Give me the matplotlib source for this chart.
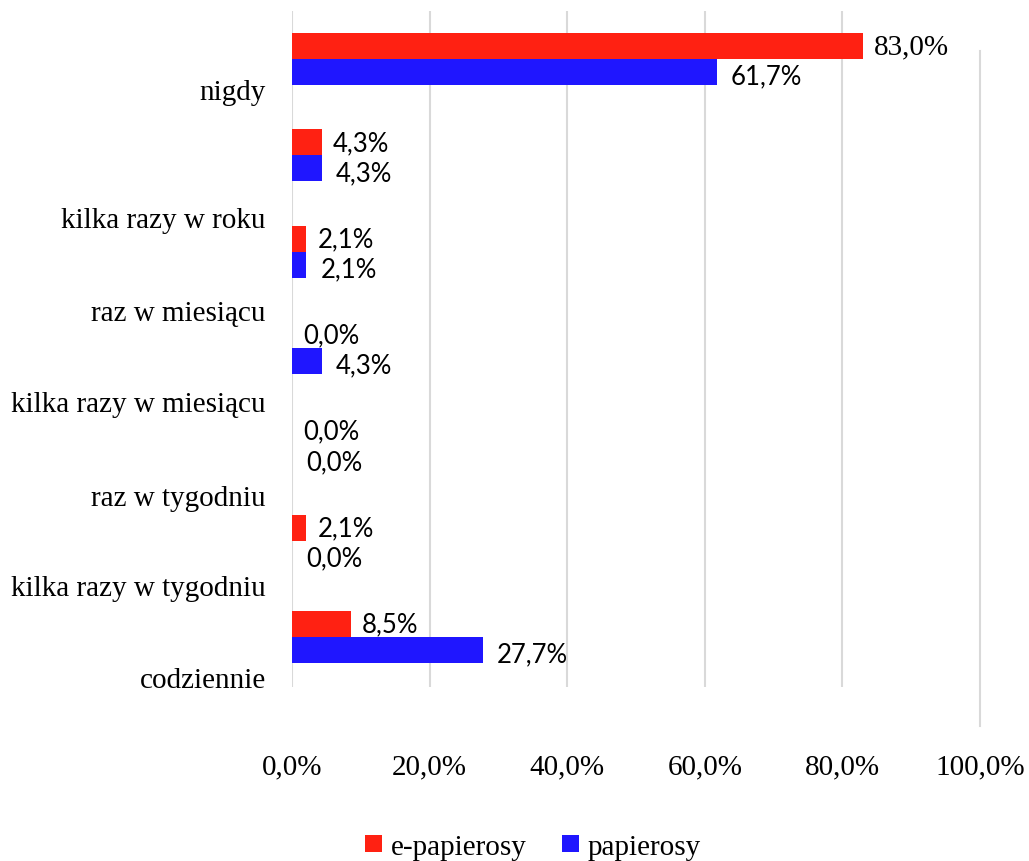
import matplotlib
matplotlib.use('Agg')
import matplotlib.pyplot as plt
import numpy as np

categories = ['nigdy', 'kilka razy w roku', 'raz w miesiącu', 'kilka razy w miesiącu',
              'raz w tygodniu', 'kilka razy w tygodniu', 'codziennie']
e_papierosy = [83.0, 4.3, 2.1, 0.0, 0.0, 2.1, 8.5]
papierosy = [61.7, 4.3, 2.1, 4.3, 0.0, 0.0, 27.7]
x_ticks = [0, 20, 40, 60, 80, 100]

# category labels sit off-centre from the bar groups in the original
label_pos = [0.41, 1.74, 2.71, 3.65, 4.63, 5.57, 6.52]

RED = '#FF2112'
BLUE = '#1F16FF'
SERIF = 'Liberation Serif'
SANS = 'Lato'


def pct(v):
    return f'{v:.1f}%'.replace('.', ',')


fig = plt.figure(figsize=(10.29, 8.62), dpi=100)
ax = fig.add_axes([0.2838, 0.2019, 0.6686, 0.7842])

y = np.arange(len(categories))
h = 0.27
ax.barh(y - h / 2, e_papierosy, height=h, color=RED, label='e-papierosy', zorder=3)
ax.barh(y + h / 2, papierosy, height=h, color=BLUE, label='papierosy', zorder=3)

ax.set_xlim(0, 100)
ax.set_ylim(len(categories) - 0.5, -0.5)

# gridlines (the last one is shifted down, as in the source)
for t in x_ticks[:-1]:
    ax.axvline(t, color='#D9D9D9', lw=1.5, zorder=1)
ax.axvline(100, ymin=-0.058, ymax=0.941, color='#D9D9D9', lw=1.5, zorder=1, clip_on=False)

for s in ax.spines.values():
    s.set_visible(False)

ax.set_xticks(x_ticks)
ax.set_xticklabels([pct(t) for t in x_ticks], fontsize=21, family=SERIF)
ax.tick_params(axis='x', length=0, pad=48)

ax.set_yticks(label_pos)
ax.set_yticklabels(categories, fontsize=21, family=SERIF)
ax.tick_params(axis='y', length=0, pad=19)
plt.setp(ax.get_yticklabels(), va='baseline')

# data labels
for i, v in enumerate(e_papierosy):
    fam = SERIF if v > 50 else SANS
    size = 21 if v > 50 else 18.5
    ax.annotate(pct(v), (v, i - h / 2), xytext=(8, 0), textcoords='offset points',
                va='center', ha='left', fontsize=size, family=fam, zorder=4)
for i, v in enumerate(papierosy):
    ax.annotate(pct(v), (v, i + h / 2), xytext=(10, -3), textcoords='offset points',
                va='center', ha='left', fontsize=18.5, family=SANS, zorder=4)

fig.legend(loc='center', bbox_to_anchor=(533 / 1029, 1 - 848 / 862), ncol=2,
           frameon=False, prop={'family': SERIF, 'size': 21},
           handlelength=0.6, handleheight=0.55, handletextpad=0.3, columnspacing=1.2)

fig.savefig('out.png', dpi=100)
